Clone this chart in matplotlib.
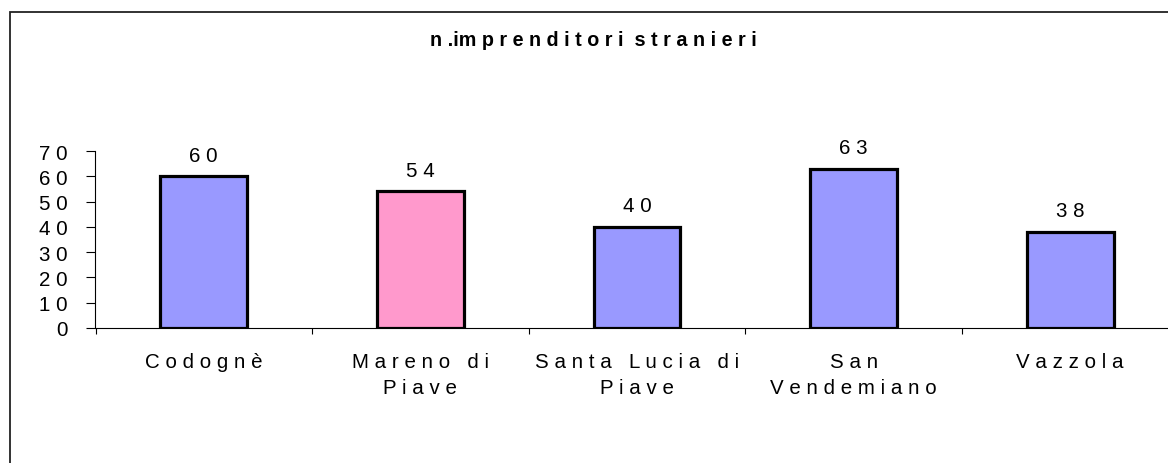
import matplotlib
matplotlib.use('Agg')
import matplotlib.pyplot as plt
from matplotlib.patches import Rectangle
import numpy as np

comuni = ['Codognè', 'Mareno di\nPiave', 'Santa Lucia di\nPiave', 'San\nVendemiano', 'Vazzola']
imprenditori = [60, 54, 40, 63, 38]
colori = ['#9999FF', '#FF99CC', '#9999FF', '#9999FF', '#9999FF']
y_ticks = [0, 10, 20, 30, 40, 50, 60, 70]


def spaziato(s):
    # letter spacing "alla Excel"
    return '\n'.join(' '.join(riga) for riga in s.split('\n'))


plt.rcParams['font.family'] = ['Liberation Sans', 'DejaVu Sans']
fs = 14.8

fig = plt.figure(figsize=(11.68, 4.64), dpi=100)
fig.patch.set_facecolor('white')

# cornice del grafico (esce dall'immagine a destra e in basso)
fig.patches.append(Rectangle((9.5 / 1168, -0.1), 1.2, 0.1 + (464 - 12.5) / 464,
                             transform=fig.transFigure, fill=False,
                             edgecolor='#222222', linewidth=1.3))

ax = fig.add_axes([95.5 / 1168, 135 / 464, 1083 / 1168, 177 / 464])
x = np.arange(len(comuni))
ax.bar(x, imprenditori, width=0.4, color=colori, edgecolor='black', linewidth=2.3, zorder=3)

for xi, v in zip(x, imprenditori):
    ax.annotate(spaziato(str(v)), (xi, v), xytext=(0, 11.3), textcoords='offset points',
                ha='center', va='baseline', fontsize=fs)

ax.set_xlim(-0.5, len(comuni) - 0.5)
ax.set_ylim(0, 70)
ax.set_yticks(y_ticks)
ax.set_yticklabels([spaziato(str(t)) for t in y_ticks], fontsize=fs)
ax.tick_params(axis='y', direction='out', length=6.8, width=0.8, pad=13)

ax.set_xticks(np.arange(len(comuni) + 1) - 0.5)
ax.set_xticklabels([])
ax.tick_params(axis='x', which='major', direction='out', length=4.3, width=0.8)
ax.set_xticks(x, minor=True)
ax.set_xticklabels([spaziato(c) for c in comuni], minor=True, fontsize=fs, linespacing=1.52)
ax.tick_params(axis='x', which='minor', length=0, pad=17)

for s in ['top', 'right']:
    ax.spines[s].set_visible(False)
for s in ['left', 'bottom']:
    ax.spines[s].set_linewidth(0.8)
    ax.spines[s].set_color('black')

fig.text(593 / 1168, (464 - 46.5) / 464, 'n .im p r e n d i t o r i  s t r a n i e r i',
         ha='center', va='baseline', fontsize=14.2, fontweight='bold')

fig.savefig('out.png', dpi=100)
